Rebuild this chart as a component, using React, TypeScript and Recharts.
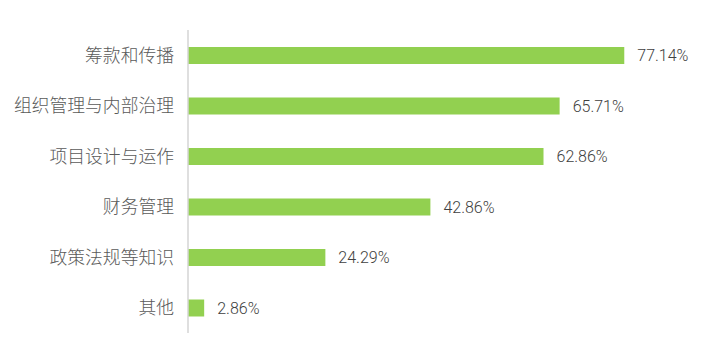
import React from 'react';
import { BarChart, Bar, XAxis, YAxis, LabelList } from 'recharts';

const categories = ['筹款和传播', '组织管理与内部治理', '项目设计与运作', '财务管理', '政策法规等知识', '其他'];
const values = [77.14, 65.71, 62.86, 42.86, 24.29, 2.86];

const data = categories.map((name, i) => ({ name, value: values[i] }));

export default function App() {
  return (
    <div style={{ width: 698, height: 340 }}>
      <BarChart
        width={698}
        height={340}
        data={data}
        layout="vertical"
        margin={{ top: 22, right: 9, bottom: 15, left: 0 }}
        barCategoryGap={0}
      >
        <XAxis type="number" domain={[0, 90]} hide />
        <YAxis
          type="category"
          dataKey="name"
          width={180}
          tickLine={false}
          tickSize={0}
          tickMargin={14}
          axisLine={{ stroke: '#d4d4d4', strokeWidth: 1.5 }}
          tick={{ fill: '#595959', fontSize: 17.8, fontWeight: 300, fontFamily: '"Noto Sans CJK SC", sans-serif' }}
          interval={0}
        />
        <Bar dataKey="value" fill="#92d050" barSize={17} isAnimationActive={false}>
          <LabelList
            dataKey="value"
            position="right"
            offset={13}
            formatter={(v: number) => `${v.toFixed(2)}%`}
            style={{ fill: '#404040', fontSize: 16, fontWeight: 300, fontFamily: 'Roboto, sans-serif' }}
          />
        </Bar>
      </BarChart>
    </div>
  );
}
